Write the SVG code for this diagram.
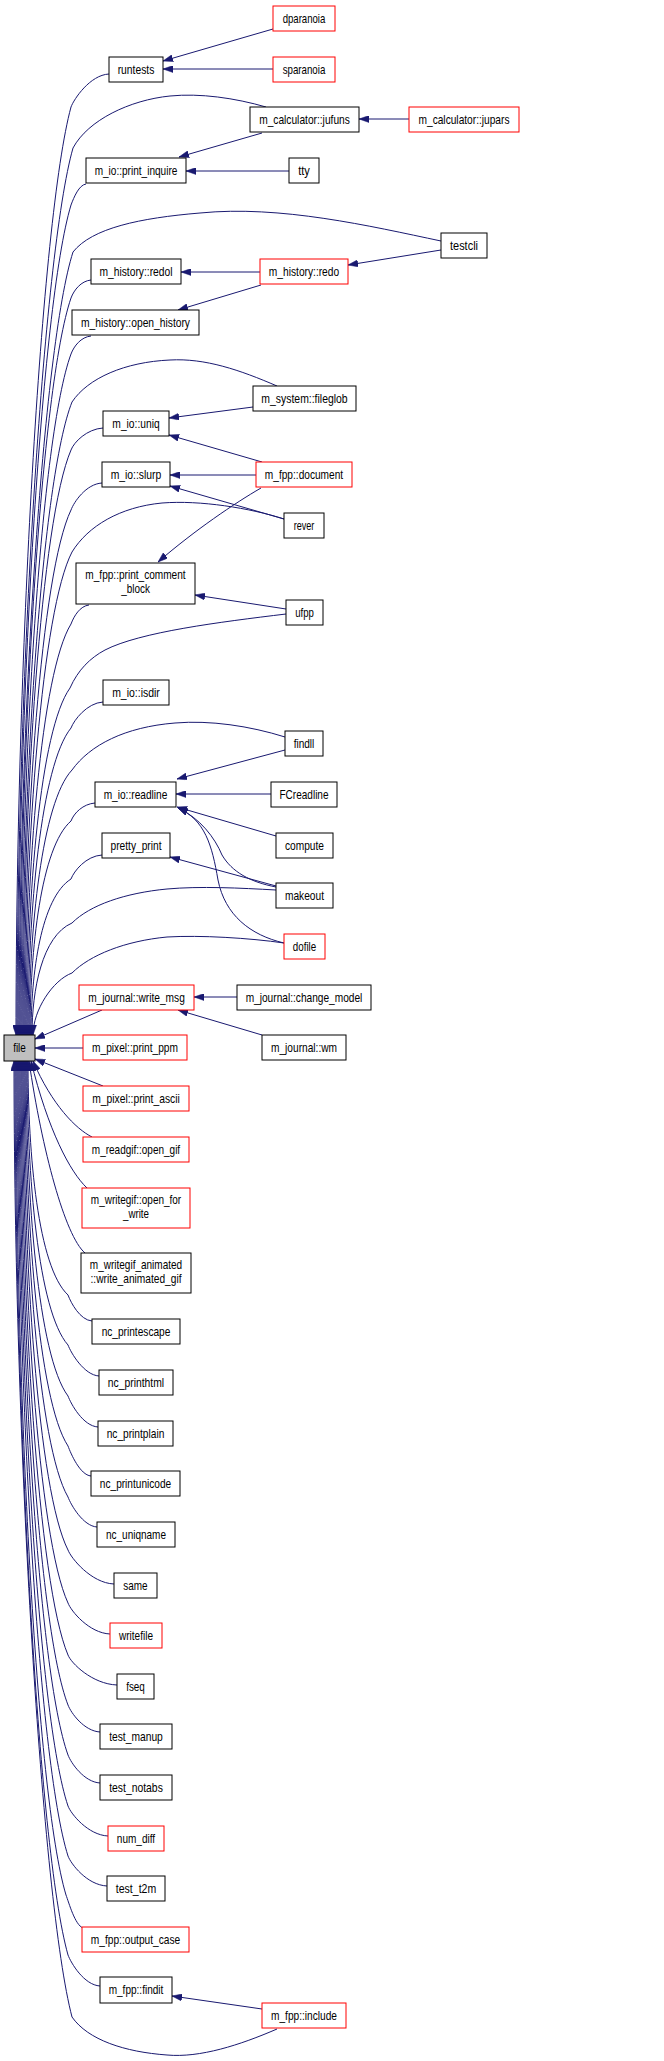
<svg xmlns="http://www.w3.org/2000/svg" width="664" height="2061" viewBox="0 0 664 2061">
<style>
.n rect{fill:#fff;stroke:#000;stroke-width:1}
.r rect{stroke:#f00}
.g rect{fill:#bfbfbf}
text{font-family:"Liberation Sans",Arial,sans-serif;font-size:13px;text-anchor:middle;fill:#000}
#edges path{fill:none;stroke:#191970;stroke-width:1;marker-end:url(#ah)}
</style>
<defs>
<marker id="ah" viewBox="0 0 10 7" refX="10" refY="3.5" markerWidth="10" markerHeight="7" orient="auto" markerUnits="userSpaceOnUse">
<path d="M0,0L10,3.5L0,7z" fill="#191970" stroke="#191970" stroke-width="0.5"/>
</marker>
</defs>
<rect width="664" height="2061" fill="#fff"/>
<g id="edges">
<path d="M273,29 L163,61"/>
<path d="M273,69 L163,69"/>
<path d="M409,119 L359,119"/>
<path d="M262,133 L179,157"/>
<path d="M289,171 L186,171"/>
<path d="M441,250 L348,265"/>
<path d="M260,272 L181,272"/>
<path d="M261,285 L178,310"/>
<path d="M253,407 L169,418"/>
<path d="M262,462 L169,435"/>
<path d="M256,475 L170,475"/>
<path d="M284,519 L170,486"/>
<path d="M261,488 C235,503 195,530 158,562"/>
<path d="M286,609 L195,595"/>
<path d="M285,750 L177,779"/>
<path d="M271,794 L176,794"/>
<path d="M276,836 L177,807"/>
<path d="M276,887 C250,882 232,872 222,855 C215,838 200,818 178,808"/>
<path d="M284,943 C250,935 225,915 218,880 C212,845 205,820 178,808"/>
<path d="M276,886 L170,857"/>
<path d="M237,997 L194,997"/>
<path d="M262,1035 L178,1010"/>
<path d="M262,2009 L172,1996"/>
<path d="M102,1010 L35,1039"/>
<path d="M83,1048 L35,1048"/>
<path d="M103,1086 L35,1059"/>
<path d="M109,74 C90,75 74,99 71,107 C41,218 16,664 16,1035"/>
<path d="M266,107 C235,98 200,93 170,96 C130,100 88,120 73,148 C43,254 17,680 17,1035"/>
<path d="M86,184 C79,185 74,197 71,205 C41,305 18,703 18,1035"/>
<path d="M441,241 C370,226 280,205 200,213 C140,218 92,228 73,252 C43,346 19,722 19,1035"/>
<path d="M91,280 C81,281 74,290 71,298 C41,386 20,740 20,1035"/>
<path d="M91,336 C81,337 74,346 71,354 C41,436 21,763 21,1035"/>
<path d="M277,386 C240,370 205,358 170,360 C125,362 88,378 72,402 C42,478 22,782 22,1035"/>
<path d="M103,428 C87,429 74,442 71,450 C41,520 23,801 23,1035"/>
<path d="M102,483 C86,484 74,502 71,510 C41,573 24,825 24,1035"/>
<path d="M284,519 C250,508 200,500 162,503 C120,507 88,526 72,552 C42,610 25,842 25,1035"/>
<path d="M89,605 C80,606 74,616 71,624 C41,673 26,871 26,1035"/>
<path d="M286,614 C220,622 140,632 105,650 C90,658 78,670 70,688 C40,730 27,896 27,1035"/>
<path d="M103,702 C87,703 74,720 71,728 C41,765 28,912 28,1035"/>
<path d="M285,737 C250,726 210,720 175,723 C125,727 90,745 72,770 C42,802 29,929 29,1035"/>
<path d="M95,803 C83,804 74,813 71,821 C41,847 30,949 30,1035"/>
<path d="M102,855 C86,856 74,871 71,879 C41,898 31,973 31,1035"/>
<path d="M276,890 C240,888 200,886 167,889 C125,893 90,905 72,923 C42,936 32,990 32,1035"/>
<path d="M284,943 C250,938 200,935 167,937 C125,941 90,955 72,973 C53,980 33,1010 33,1035"/>
<path d="M92,1137 C76,1129 52,1105 33,1061"/>
<path d="M87,1188 C70,1172 48,1130 31,1061"/>
<path d="M85,1253 C65,1236 42,1150 29,1061"/>
<path d="M92,1321 C80,1320 71,1303 68,1295 C38,1267 28,1155 28,1061"/>
<path d="M99,1376 C84,1375 71,1353 68,1345 C38,1311 27,1175 27,1061"/>
<path d="M98,1427 C83,1426 71,1404 68,1396 C38,1356 26,1195 26,1061"/>
<path d="M91,1476 C80,1475 71,1454 68,1446 C38,1400 25,1215 25,1061"/>
<path d="M97,1527 C83,1526 71,1505 68,1497 C38,1445 24,1235 24,1061"/>
<path d="M114,1584 C91,1583 71,1558 68,1550 C38,1491 23,1257 23,1061"/>
<path d="M110,1634 C89,1633 71,1611 68,1603 C38,1538 22,1278 22,1061"/>
<path d="M117,1685 C92,1684 71,1663 68,1655 C38,1584 21,1299 21,1061"/>
<path d="M100,1732 C84,1731 71,1713 68,1705 C38,1628 20,1319 20,1061"/>
<path d="M100,1783 C84,1782 71,1763 68,1755 C38,1672 19,1339 19,1061"/>
<path d="M108,1836 C88,1835 71,1814 68,1806 C38,1717 18,1359 18,1061"/>
<path d="M107,1886 C87,1885 71,1864 68,1856 C38,1761 17,1379 17,1061"/>
<path d="M83,1928 C75,1925 69,1903 66,1895 C36,1795 16,1395 16,1061"/>
<path d="M100,1986 C84,1985 71,1963 68,1955 C38,1848 15,1419 15,1061"/>
<path d="M277,2029 C240,2045 200,2058 167,2055 C125,2052 88,2040 72,2017 C42,1902 14,1443 14,1061"/>
</g>
<g id="n_dparanoia" class="n r"><rect x="273" y="6" width="62" height="25"/><text x="304" y="23" textLength="42.7" lengthAdjust="spacingAndGlyphs">dparanoia</text></g>
<g id="n_sparanoia" class="n r"><rect x="273" y="57" width="62" height="25"/><text x="304" y="74" textLength="42.7" lengthAdjust="spacingAndGlyphs">sparanoia</text></g>
<g id="n_runtests" class="n"><rect x="109" y="57" width="54" height="25"/><text x="136" y="74" textLength="36.7" lengthAdjust="spacingAndGlyphs">runtests</text></g>
<g id="n_jufuns" class="n"><rect x="250" y="107" width="109" height="25"/><text x="304.5" y="124" textLength="90.7" lengthAdjust="spacingAndGlyphs">m_calculator::jufuns</text></g>
<g id="n_jupars" class="n r"><rect x="409" y="107" width="110" height="25"/><text x="464" y="124" textLength="91" lengthAdjust="spacingAndGlyphs">m_calculator::jupars</text></g>
<g id="n_print_inquire" class="n"><rect x="86" y="158" width="100" height="25"/><text x="136" y="175" textLength="82.7" lengthAdjust="spacingAndGlyphs">m_io::print_inquire</text></g>
<g id="n_tty" class="n"><rect x="289" y="158" width="30" height="25"/><text x="304" y="175" textLength="11.7" lengthAdjust="spacingAndGlyphs">tty</text></g>
<g id="n_testcli" class="n"><rect x="441" y="233" width="46" height="25"/><text x="464" y="250" textLength="28" lengthAdjust="spacingAndGlyphs">testcli</text></g>
<g id="n_redol" class="n"><rect x="91" y="259" width="90" height="25"/><text x="136" y="276" textLength="73" lengthAdjust="spacingAndGlyphs">m_history::redol</text></g>
<g id="n_redo" class="n r"><rect x="260" y="259" width="88" height="25"/><text x="304" y="276" textLength="70.3" lengthAdjust="spacingAndGlyphs">m_history::redo</text></g>
<g id="n_open_history" class="n"><rect x="72" y="310" width="127" height="25"/><text x="135.5" y="327" textLength="109" lengthAdjust="spacingAndGlyphs">m_history::open_history</text></g>
<g id="n_fileglob" class="n"><rect x="253" y="386" width="103" height="25"/><text x="304.5" y="403" textLength="86.3" lengthAdjust="spacingAndGlyphs">m_system::fileglob</text></g>
<g id="n_uniq" class="n"><rect x="103" y="411" width="66" height="25"/><text x="136" y="428" textLength="47.3" lengthAdjust="spacingAndGlyphs">m_io::uniq</text></g>
<g id="n_slurp" class="n"><rect x="102" y="462" width="68" height="25"/><text x="136" y="479" textLength="50.7" lengthAdjust="spacingAndGlyphs">m_io::slurp</text></g>
<g id="n_document" class="n r"><rect x="256" y="462" width="96" height="25"/><text x="304" y="479" textLength="78.3" lengthAdjust="spacingAndGlyphs">m_fpp::document</text></g>
<g id="n_rever" class="n"><rect x="284" y="513" width="40" height="25"/><text x="304" y="530" textLength="20.7" lengthAdjust="spacingAndGlyphs">rever</text></g>
<g id="n_print_comment_block" class="n"><rect x="76" y="563" width="119" height="41"/><text x="135.5" y="579" textLength="100.3" lengthAdjust="spacingAndGlyphs">m_fpp::print_comment</text><text x="135.5" y="593" textLength="28.7" lengthAdjust="spacingAndGlyphs">_block</text></g>
<g id="n_ufpp" class="n"><rect x="286" y="600" width="37" height="25"/><text x="304.5" y="617" textLength="18.7" lengthAdjust="spacingAndGlyphs">ufpp</text></g>
<g id="n_isdir" class="n"><rect x="103" y="680" width="66" height="25"/><text x="136" y="697" textLength="47.7" lengthAdjust="spacingAndGlyphs">m_io::isdir</text></g>
<g id="n_findll" class="n"><rect x="285" y="731" width="38" height="25"/><text x="304" y="748" textLength="20.7" lengthAdjust="spacingAndGlyphs">findll</text></g>
<g id="n_readline" class="n"><rect x="95" y="782" width="81" height="25"/><text x="135.5" y="799" textLength="63.7" lengthAdjust="spacingAndGlyphs">m_io::readline</text></g>
<g id="n_FCreadline" class="n"><rect x="271" y="782" width="66" height="25"/><text x="304" y="799" textLength="49" lengthAdjust="spacingAndGlyphs">FCreadline</text></g>
<g id="n_compute" class="n"><rect x="276" y="833" width="57" height="25"/><text x="304.5" y="850" textLength="39" lengthAdjust="spacingAndGlyphs">compute</text></g>
<g id="n_pretty_print" class="n"><rect x="102" y="833" width="68" height="25"/><text x="136" y="850" textLength="51" lengthAdjust="spacingAndGlyphs">pretty_print</text></g>
<g id="n_makeout" class="n"><rect x="276" y="883" width="57" height="25"/><text x="304.5" y="900" textLength="39" lengthAdjust="spacingAndGlyphs">makeout</text></g>
<g id="n_dofile" class="n r"><rect x="284" y="934" width="41" height="25"/><text x="304.5" y="951" textLength="23.3" lengthAdjust="spacingAndGlyphs">dofile</text></g>
<g id="n_write_msg" class="n r"><rect x="79" y="985" width="115" height="25"/><text x="136.5" y="1002" textLength="96.7" lengthAdjust="spacingAndGlyphs">m_journal::write_msg</text></g>
<g id="n_change_model" class="n"><rect x="237" y="985" width="134" height="25"/><text x="304" y="1002" textLength="116.7" lengthAdjust="spacingAndGlyphs">m_journal::change_model</text></g>
<g id="n_file" class="n g"><rect x="4" y="1035" width="31" height="26"/><text x="19.5" y="1052" textLength="12.7" lengthAdjust="spacingAndGlyphs">file</text></g>
<g id="n_print_ppm" class="n r"><rect x="83" y="1035" width="104" height="25"/><text x="135" y="1052" textLength="86" lengthAdjust="spacingAndGlyphs">m_pixel::print_ppm</text></g>
<g id="n_wm" class="n"><rect x="262" y="1035" width="84" height="25"/><text x="304" y="1052" textLength="66" lengthAdjust="spacingAndGlyphs">m_journal::wm</text></g>
<g id="n_print_ascii" class="n r"><rect x="83" y="1086" width="106" height="25"/><text x="136" y="1103" textLength="87.7" lengthAdjust="spacingAndGlyphs">m_pixel::print_ascii</text></g>
<g id="n_open_gif" class="n r"><rect x="83" y="1137" width="106" height="25"/><text x="136" y="1154" textLength="88.3" lengthAdjust="spacingAndGlyphs">m_readgif::open_gif</text></g>
<g id="n_open_for_write" class="n r"><rect x="82" y="1188" width="108" height="40"/><text x="136" y="1204" textLength="90.3" lengthAdjust="spacingAndGlyphs">m_writegif::open_for</text><text x="136" y="1218" textLength="26" lengthAdjust="spacingAndGlyphs">_write</text></g>
<g id="n_write_animated_gif" class="n"><rect x="81" y="1253" width="110" height="40"/><text x="136" y="1269" textLength="92.3" lengthAdjust="spacingAndGlyphs">m_writegif_animated</text><text x="136" y="1283" textLength="91" lengthAdjust="spacingAndGlyphs">::write_animated_gif</text></g>
<g id="n_nc_printescape" class="n"><rect x="92" y="1319" width="88" height="25"/><text x="136" y="1336" textLength="68.7" lengthAdjust="spacingAndGlyphs">nc_printescape</text></g>
<g id="n_nc_printhtml" class="n"><rect x="99" y="1370" width="74" height="25"/><text x="136" y="1387" textLength="56.3" lengthAdjust="spacingAndGlyphs">nc_printhtml</text></g>
<g id="n_nc_printplain" class="n"><rect x="98" y="1421" width="75" height="25"/><text x="135.5" y="1438" textLength="57.7" lengthAdjust="spacingAndGlyphs">nc_printplain</text></g>
<g id="n_nc_printunicode" class="n"><rect x="91" y="1471" width="89" height="25"/><text x="135.5" y="1488" textLength="71.3" lengthAdjust="spacingAndGlyphs">nc_printunicode</text></g>
<g id="n_nc_uniqname" class="n"><rect x="97" y="1522" width="78" height="25"/><text x="136" y="1539" textLength="60" lengthAdjust="spacingAndGlyphs">nc_uniqname</text></g>
<g id="n_same" class="n"><rect x="114" y="1573" width="43" height="25"/><text x="135.5" y="1590" textLength="24.3" lengthAdjust="spacingAndGlyphs">same</text></g>
<g id="n_writefile" class="n r"><rect x="110" y="1623" width="52" height="25"/><text x="136" y="1640" textLength="34" lengthAdjust="spacingAndGlyphs">writefile</text></g>
<g id="n_fseq" class="n"><rect x="117" y="1674" width="37" height="25"/><text x="135.5" y="1691" textLength="18.7" lengthAdjust="spacingAndGlyphs">fseq</text></g>
<g id="n_test_manup" class="n"><rect x="100" y="1724" width="72" height="25"/><text x="136" y="1741" textLength="53.7" lengthAdjust="spacingAndGlyphs">test_manup</text></g>
<g id="n_test_notabs" class="n"><rect x="100" y="1775" width="72" height="25"/><text x="136" y="1792" textLength="53.7" lengthAdjust="spacingAndGlyphs">test_notabs</text></g>
<g id="n_num_diff" class="n r"><rect x="108" y="1826" width="56" height="25"/><text x="136" y="1843" textLength="38.3" lengthAdjust="spacingAndGlyphs">num_diff</text></g>
<g id="n_test_t2m" class="n"><rect x="107" y="1876" width="58" height="25"/><text x="136" y="1893" textLength="40.3" lengthAdjust="spacingAndGlyphs">test_t2m</text></g>
<g id="n_output_case" class="n r"><rect x="82" y="1927" width="107" height="25"/><text x="135.5" y="1944" textLength="89.3" lengthAdjust="spacingAndGlyphs">m_fpp::output_case</text></g>
<g id="n_findit" class="n"><rect x="100" y="1977" width="72" height="26"/><text x="136" y="1994" textLength="54.7" lengthAdjust="spacingAndGlyphs">m_fpp::findit</text></g>
<g id="n_include" class="n r"><rect x="262" y="2003" width="84" height="25"/><text x="304" y="2020" textLength="66" lengthAdjust="spacingAndGlyphs">m_fpp::include</text></g>
</svg>
